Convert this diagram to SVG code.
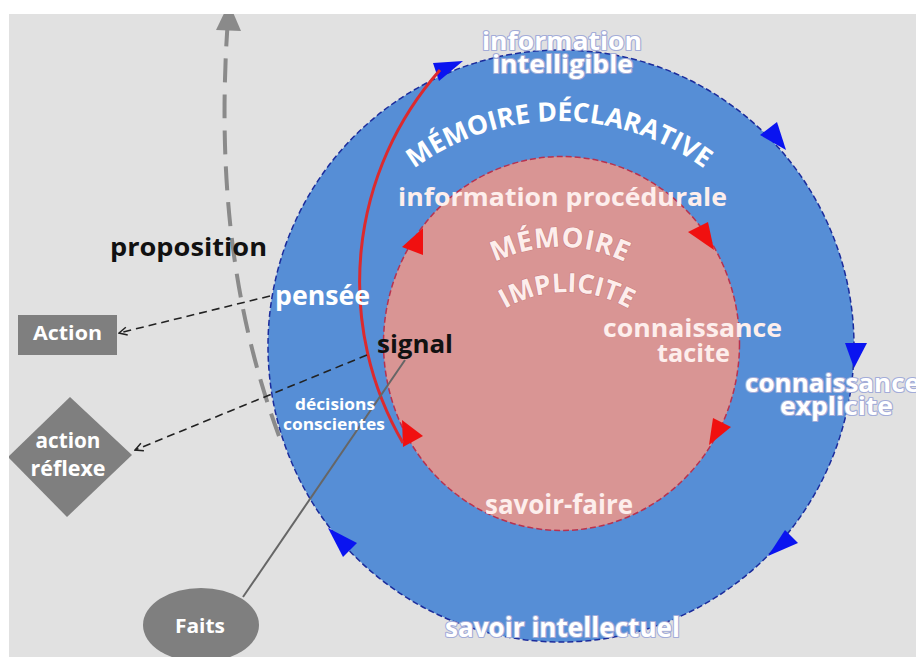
<svg xmlns="http://www.w3.org/2000/svg" width="916" height="657" viewBox="0 0 916 657">
<style>
.t{font-family:"Open Sans","DejaVu Sans",sans-serif;font-weight:700;}
.w{fill:#ffffff;}
.pk{fill:#fdeeec;}
.blk{fill:#111111;}
.halo{stroke:#a3acd8;stroke-width:2.2;paint-order:stroke;stroke-linejoin:round;}
.phalo{stroke:#c97f80;stroke-width:1.2;paint-order:stroke;stroke-linejoin:round;}
.dash{fill:none;stroke:#222;stroke-width:1.6;stroke-dasharray:8 5;}
.bt{fill:#0a14f0;}
.rt{fill:#f01010;}
.box{fill:#7f7f7f;}
</style>
<defs>
<marker id="open" viewBox="0 0 10 10" refX="9" refY="5" markerWidth="10" markerHeight="10" markerUnits="userSpaceOnUse" orient="auto">
<path d="M1,1 L9,5 L1,9" fill="none" stroke="#222" stroke-width="1.5" stroke-dasharray="none"/>
</marker>
<path id="arcDecl" d="M314,366 A245,245 0 0 1 804,366"/>
<path id="arcMem" d="M412,395 A148,148 0 0 1 708,395"/>
<path id="arcImp" d="M443,416 A124,124 0 0 1 691,416"/>
</defs>
<rect x="0" y="0" width="916" height="657" fill="#e1e1e1"/>

<g id="memoire-declarative">
<ellipse cx="561" cy="346" rx="293" ry="296" fill="#568ed6" stroke="#1b2c9c" stroke-width="1.5" stroke-dasharray="6 3"/>
<polygon class="bt" points="433,63 463,61 439,81"/>
<polygon class="bt" points="760,135 777,122 786,150"/>
<polygon class="bt" points="845,343 867,343 854,368"/>
<polygon class="bt" points="785,530 798,543 768,556"/>
<polygon class="bt" points="328,528 357,543 343,557"/>
</g>

<g id="memoire-implicite">
<ellipse cx="561.5" cy="343.5" rx="178" ry="187" fill="#d99594" stroke="#b8324f" stroke-width="1.5" stroke-dasharray="6 3"/>
<polygon class="rt" points="402,247 423,228 423,255"/>
<polygon class="rt" points="688,232 708,222 714,250"/>
<polygon class="rt" points="402,420 423,436 403,447"/>
<polygon class="rt" points="713,418 731,427 709,445"/>
</g>

<g id="connectors">
<path d="M403,443 A320,320 0 0 1 440,70" fill="none" stroke="#dc2a2e" stroke-width="3"/>
<path d="M279,436 C240,330 215,200 228,18" fill="none" stroke="#8a8a8a" stroke-width="4" stroke-dasharray="24 12"/>
<polygon points="229,3 216,30 241,31" fill="#8a8a8a"/>
<line x1="243" y1="597" x2="405" y2="360" stroke="#666" stroke-width="2"/>
<path class="dash" d="M270,296 L119,333" marker-end="url(#open)"/>
<path class="dash" d="M367,355 L135,450" marker-end="url(#open)"/>
</g>

<g id="node-action">
<rect class="box" x="18" y="315" width="99" height="40"/>
<text class="t w" x="67.5" y="340" font-size="19" font-weight="600" text-anchor="middle" textLength="69" lengthAdjust="spacingAndGlyphs">Action</text>
</g>

<g id="node-action-reflexe">
<polygon class="box" points="8,457 70,397 132,455 67,517"/>
<text class="t w" x="68" y="448" font-size="21" font-weight="600" text-anchor="middle" textLength="65" lengthAdjust="spacingAndGlyphs">action</text>
<text class="t w" x="68" y="476" font-size="21" font-weight="600" text-anchor="middle" textLength="75" lengthAdjust="spacingAndGlyphs">réflexe</text>
</g>

<g id="node-faits">
<ellipse class="box" cx="201" cy="625" rx="58" ry="37"/>
<text class="t w" x="200" y="633" font-size="19" font-weight="600" text-anchor="middle" textLength="50" lengthAdjust="spacingAndGlyphs">Faits</text>
</g>

<g id="labels">
<text class="t w halo" x="562" y="50" font-size="24.5" text-anchor="middle" textLength="160" lengthAdjust="spacingAndGlyphs">information</text>
<text class="t w halo" x="562.5" y="73" font-size="24.5" text-anchor="middle" textLength="141" lengthAdjust="spacingAndGlyphs">intelligible</text>
<text class="t w" font-size="26.5"><textPath href="#arcDecl" startOffset="50%" text-anchor="middle">MÉMOIRE DÉCLARATIVE</textPath></text>
<text class="t pk" x="562.5" y="206" font-size="25.5" text-anchor="middle" textLength="329" lengthAdjust="spacingAndGlyphs">information procédurale</text>
<text class="t pk phalo" font-size="27.5" letter-spacing="0.5"><textPath href="#arcMem" startOffset="50%" text-anchor="middle">MÉMOIRE</textPath></text>
<text class="t pk phalo" font-size="26.5"><textPath href="#arcImp" startOffset="50%" text-anchor="middle">IMPLICITE</textPath></text>
<text class="t pk" x="692.5" y="337" font-size="25" text-anchor="middle" textLength="179" lengthAdjust="spacingAndGlyphs">connaissance</text>
<text class="t pk" x="693.5" y="362" font-size="25" text-anchor="middle" textLength="73" lengthAdjust="spacingAndGlyphs">tacite</text>
<text class="t w halo" x="745" y="392" font-size="25" textLength="175" lengthAdjust="spacingAndGlyphs">connaissance</text>
<text class="t w halo" x="836.5" y="415" font-size="25" text-anchor="middle" textLength="113" lengthAdjust="spacingAndGlyphs">explicite</text>
<text class="t pk" x="559" y="514" font-size="26" text-anchor="middle" textLength="148" lengthAdjust="spacingAndGlyphs">savoir-faire</text>
<text class="t w halo" x="562.5" y="637" font-size="26" text-anchor="middle" textLength="235" lengthAdjust="spacingAndGlyphs">savoir intellectuel</text>
<text class="t w" x="322.5" y="305" font-size="26" text-anchor="middle" textLength="95" lengthAdjust="spacingAndGlyphs">pensée</text>
<text class="t blk" x="377" y="353" font-size="25" textLength="76" lengthAdjust="spacingAndGlyphs">signal</text>
<text class="t blk" x="110" y="256" font-size="25" textLength="157" lengthAdjust="spacingAndGlyphs">proposition</text>
<text class="t w" x="335" y="410" font-size="16" text-anchor="middle" textLength="80" lengthAdjust="spacingAndGlyphs">décisions</text>
<text class="t w" x="334" y="430" font-size="16" text-anchor="middle" textLength="102" lengthAdjust="spacingAndGlyphs">conscientes</text>
</g>

<rect x="0" y="0" width="916" height="14" fill="#ffffff"/>
<rect x="0" y="0" width="9" height="657" fill="#ffffff"/>
</svg>
